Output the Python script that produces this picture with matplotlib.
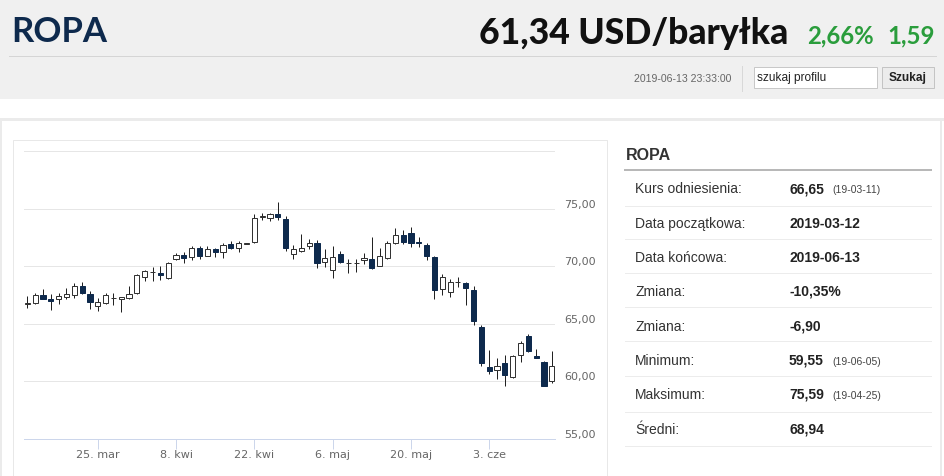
import matplotlib
matplotlib.use('Agg')
import matplotlib.pyplot as plt
import matplotlib.patches as patches
import pandas as pd

# daily candles 2019-03-12 .. 2019-06-13
opens = [66.75, 66.8, 67.5, 67.15, 67.1, 67.3, 67.5, 68.3, 67.6, 66.5,
         66.8, 67.2, 67.1, 67.25, 67.7, 69.1, 69.45, 69.4, 69.0, 70.6,
         71.0, 70.8, 71.55, 70.9, 71.45, 71.2, 71.9, 71.55, 71.95, 72.1,
         74.3, 74.15, 74.5, 74.1, 71.1, 71.3, 71.75, 72.0, 70.4, 69.65,
         71.1, 70.25, 70.25, 70.5, 70.65, 70.05, 70.7, 72.05, 72.7, 72.9,
         72.1, 71.8, 70.8, 68.05, 67.75, 68.6, 68.55, 67.9, 64.75, 61.2,
         60.95, 61.55, 60.4, 62.3, 63.95, 62.15, 61.65, 60.0]
highs = [67.4, 67.7, 68.0, 67.6, 67.7, 68.1, 68.5, 68.65, 67.85, 67.2,
         67.7, 67.65, 67.35, 68.25, 69.3, 69.7, 69.95, 70.0, 70.4, 71.15,
         71.25, 71.75, 71.75, 71.75, 71.6, 72.05, 72.2, 72.2, 72.0, 74.5,
         74.65, 74.65, 75.59, 74.35, 71.8, 72.8, 72.35, 72.25, 71.45, 71.75,
         71.3, 70.6, 70.6, 71.15, 72.5, 71.6, 72.2, 73.35, 73.15, 73.4,
         72.5, 72.0, 70.9, 69.3, 68.85, 69.05, 68.65, 68.25, 64.9, 62.75,
         62.0, 62.25, 62.3, 63.5, 64.1, 62.8, 61.75, 62.6]
lows = [66.4, 66.75, 67.1, 66.2, 66.75, 67.15, 67.25, 67.6, 66.3, 66.1,
        66.75, 66.65, 66.0, 67.1, 67.6, 68.7, 68.75, 68.8, 68.85, 70.5,
        70.3, 70.55, 70.65, 70.9, 70.8, 70.7, 71.5, 71.25, 71.95, 72.05,
        74.0, 73.95, 74.05, 71.3, 70.65, 71.2, 71.45, 69.8, 69.95, 69.0,
        70.25, 69.4, 69.45, 70.15, 69.75, 70.0, 70.6, 71.9, 71.9, 71.7,
        71.7, 70.5, 67.1, 67.45, 67.35, 68.2, 66.65, 64.9, 61.3, 60.6,
        60.2, 59.55, 60.3, 61.7, 62.5, 62.0, 59.6, 59.8]
closes = [66.8, 67.5, 67.1, 67.0, 67.4, 67.6, 68.3, 67.7, 66.9, 66.9,
          67.5, 67.25, 67.3, 67.6, 69.2, 69.6, 69.5, 69.2, 70.3, 71.0,
          70.7, 71.55, 70.9, 71.5, 71.25, 71.8, 71.6, 72.0, 72.0, 74.2,
          74.35, 74.5, 74.3, 71.55, 71.45, 71.6, 72.05, 70.25, 70.7, 70.8,
          70.35, 70.3, 70.3, 70.7, 69.85, 70.9, 72.0, 72.75, 72.1, 72.05,
          72.0, 70.9, 67.95, 69.1, 68.65, 68.65, 68.1, 65.2, 61.55, 60.85,
          61.35, 60.5, 62.2, 63.3, 62.65, 62.0, 59.6, 61.34]
dates = pd.bdate_range('2019-03-12', '2019-06-13')

tick_dates = ['2019-03-25', '2019-04-08', '2019-04-22', '2019-05-06', '2019-05-20', '2019-06-03']
tick_labels = ['25. mar', '8. kwi', '22. kwi', '6. maj', '20. maj', '3. cze']
y_ticks = [55, 60, 65, 70, 75, 80]
y_labels = ['55,00', '60,00', '65,00', '70,00', '75,00', '']

table_labels = ['Kurs odniesienia:', 'Data początkowa:', 'Data końcowa:', 'Zmiana:',
                'Zmiana:', 'Minimum:', 'Maksimum:', 'Średni:']
table_values = ['66,65', '2019-03-12', '2019-06-13', '-10,35%', '-6,90', '59,55', '75,59', '68,94']
table_notes = ['(19-03-11)', '', '', '', '', '(19-06-05)', '(19-04-25)', '']

W, H = 945, 477
PX = 0.72  # points per pixel at dpi 100
NAVY = '#0e2a4d'
GREEN = '#2a9d3c'
SANS = ['Liberation Sans', 'DejaVu Sans']
HEAD = ['Lato', 'DejaVu Sans']

fig = plt.figure(figsize=(W / 100, H / 100), dpi=100)
fig.patch.set_facecolor('white')

# page layer in pixel coordinates
page = fig.add_axes([0, 0, 1, 1], zorder=0)
page.set_xlim(0, W)
page.set_ylim(H, 0)
page.axis('off')

page.add_patch(patches.Rectangle((0, 0), W, 99.5, fc='#f0f0f0', ec='none'))
page.plot([9, 936], [57.3, 57.3], color='#d5d5d5', lw=1 * PX)
page.plot([741.5, 741.5], [66.7, 91.7], color='#d8d8d8', lw=1 * PX)
page.add_patch(patches.Rectangle((754, 68), 123, 21, fc='white', ec='#c8c8c8', lw=1 * PX))
page.add_patch(patches.Rectangle((882, 68), 52, 21, fc='#ececec', ec='#c4c4c4', lw=1 * PX))

page.text(11, 42.3, 'ROPA', family=HEAD, fontweight='bold', fontsize=25, color=NAVY, va='baseline')
page.text(788, 43.5, '61,34 USD/baryłka', family=HEAD, fontweight='black', fontsize=25.6,
          color='#111111', va='baseline', ha='right')
page.text(807, 43.3, '2,66%', family=HEAD, fontweight='bold', fontsize=17.3, color=GREEN, va='baseline')
page.text(935, 43.3, '1,59', family=HEAD, fontweight='bold', fontsize=17.3, color=GREEN,
          va='baseline', ha='right')
page.text(731, 79, '2019-06-13 23:33:00', family=SANS, fontsize=7.6, color='#666666', ha='right', va='center')
page.text(757, 78.5, 'szukaj profilu', family=SANS, fontsize=8.6, color='#222222', va='center')
page.text(908, 78.5, 'Szukaj', family=SANS, fontweight='bold', fontsize=8.6, color='#222222',
          va='center', ha='center')

# content card borders
page.plot([0, W], [120, 120], color='#ebebeb', lw=3 * PX)
page.plot([1, 1], [120, H], color='#ebebeb', lw=2 * PX)
page.plot([940.5, 940.5], [120, H], color='#ebebeb', lw=2 * PX)
page.add_patch(patches.Rectangle((13, 141), 594, 345, fc='white', ec='#e8e8e8', lw=1 * PX))

# right-hand table
page.text(626, 156, 'ROPA', family=SANS, fontweight='bold', fontsize=11.5, color='#333333', va='center')
page.plot([625, 931], [170.7, 170.7], color='#b8b8b8', lw=2 * PX)
row_y = [189.3, 224.3, 258.3, 291.7, 326.7, 361, 395, 430]
sep_y = [206.7, 240.3, 274.3, 308.3, 342.3, 377.3, 412.7, 447.3]
for lab, val, note, yy, sy in zip(table_labels, table_values, table_notes, row_y, sep_y):
    page.text(635, yy, lab, family=SANS, fontsize=10, color='#333333', va='center')
    page.text(789, yy, val, family=SANS, fontweight='bold', fontsize=10, color='#222222', va='center')
    if note:
        page.text(832, yy + 1, note, family=SANS, fontsize=7.5, color='#444444', va='center')
    page.plot([625, 931], [sy, sy], color='#ececec', lw=1 * PX)

# candlestick chart
ax = fig.add_axes([24 / W, (H - 439.6) / H, 531 / W, (439.6 - 152.2) / H], zorder=1)
ax.set_facecolor('none')
ax.set_xlim(-0.42, 67.4)
ax.set_ylim(55, 80)

x = list(range(len(dates)))
ax.vlines(x, lows, highs, color='#222222', lw=1 * PX, zorder=2)
for i, o, c in zip(x, opens, closes):
    up = c >= o
    bottom = min(o, c)
    height = max(abs(c - o), 0.04)
    ax.bar(i, height, bottom=bottom, width=0.66,
           facecolor='white' if up else NAVY,
           edgecolor='#333333' if up else NAVY, lw=1 * PX, zorder=3)

for s in ['top', 'left', 'right']:
    ax.spines[s].set_visible(False)
ax.spines['bottom'].set_color('#ccd6eb')
ax.spines['bottom'].set_linewidth(1 * PX)

ax.set_yticks(y_ticks)
ax.set_yticklabels(y_labels)
ax.tick_params(axis='y', length=0, left=False, labelleft=False, labelright=True,
               pad=9 * PX, labelsize=8, labelcolor='#666666')
for t in ax.get_yticklabels():
    t.set_verticalalignment('bottom')
ax.grid(axis='y', color='#e6e6e6', lw=1 * PX, zorder=0)
ax.set_axisbelow(True)

date_index = {d.strftime('%Y-%m-%d'): i for i, d in enumerate(dates)}
ax.set_xticks([date_index[d] for d in tick_dates])
ax.set_xticklabels(tick_labels)
ax.tick_params(axis='x', direction='out', length=10 * PX, width=1 * PX, color='#ccd6eb',
               pad=0, labelsize=8, labelcolor='#666666')

fig.savefig('out.png', dpi=100)
